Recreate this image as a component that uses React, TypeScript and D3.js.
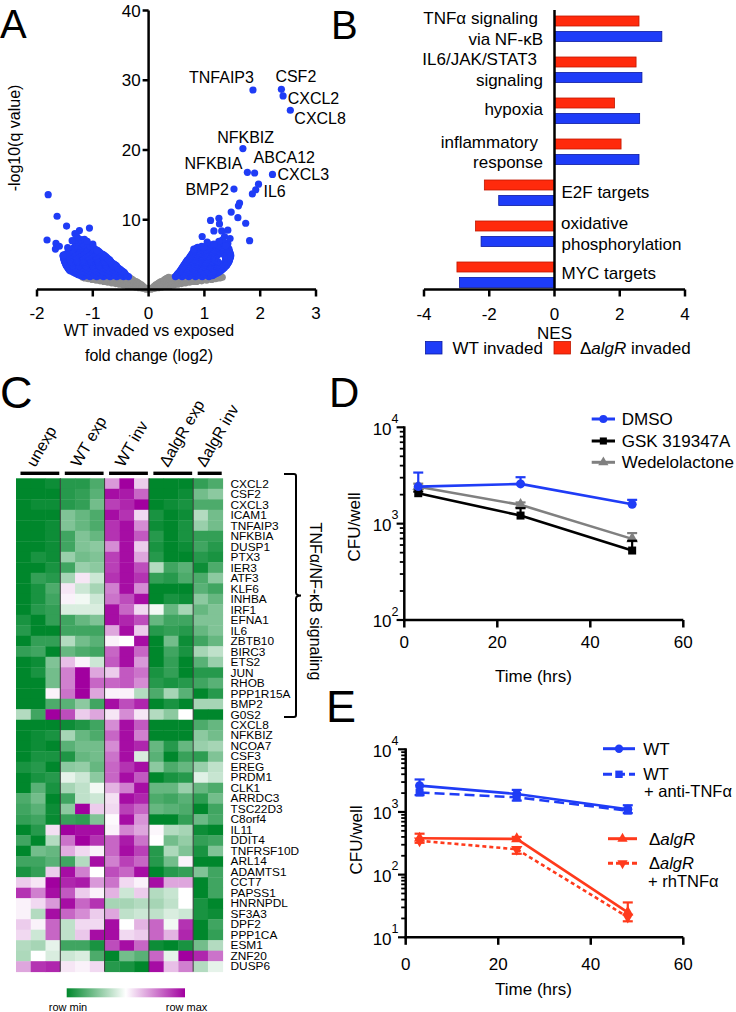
import React from "react";
import * as d3 from "d3";

const FONT = "'Liberation Sans', Arial, Helvetica, sans-serif";

// ---------------- Panel A: volcano ----------------
const labeledGenes = ["TNFAIP3", "CSF2", "CXCL2", "CXCL8", "NFKBIZ", "NFKBIA", "ABCA12", "CXCL3", "IL6", "BMP2"];
const labeledFC = [1.87, 2.38, 2.41, 2.54, 1.69, 1.77, 1.9, 2.22, 1.97, 1.53];
const labeledQ = [28.6, 28.7, 27.75, 25.7, 20.2, 16.8, 16.7, 16.5, 15.1, 14.4];

const blueScatter: [number, number][] = [
  [-1.8, 13.6], [-1.64, 10.5], [-1.82, 7.1], [-1.47, 9.1], [-1.06, 8.8], [-1.24, 8.45], [-1.32, 8.0],
  [-1.66, 6.6], [-1.67, 5.8], [-1.53, 4.9], [-0.92, 5.6], [-1.28, 7.5], [-1.37, 7.0], [-1.15, 7.2],
  [-1.0, 6.5], [-1.1, 6.9], [-1.45, 6.0], [-1.6, 6.2],
  [1.92, 14.3], [1.86, 13.7], [1.63, 12.4], [1.61, 12.0], [1.48, 11.1], [1.6, 10.3], [1.74, 9.5],
  [1.81, 7.0], [1.11, 9.9], [1.26, 10.2], [1.27, 9.4], [1.17, 8.4], [1.31, 8.4], [1.42, 8.5],
  [1.36, 7.6], [1.46, 7.3], [0.96, 7.6], [1.32, 7.1], [1.38, 6.3], [1.23, 6.4], [1.26, 6.9],
  [0.99, 6.1], [0.81, 5.8], [1.05, 6.8], [1.17, 6.5],
];

const blueLeftRows: [number, number[]][] = [
  [1.85, [-1.17, -1.05, -0.93, -0.81, -0.69, -0.57, -0.45, -0.36]],
  [1.97, [-1.21, -1.11, -0.99, -0.87, -0.75, -0.63, -0.51, -0.39]],
  [2.09, [-1.25, -1.15, -1.03, -0.91, -0.79, -0.67, -0.55, -0.42]],
  [2.21, [-1.28, -1.19, -1.07, -0.95, -0.83, -0.71, -0.59, -0.47, -0.42]],
  [2.33, [-1.31, -1.21, -1.09, -0.97, -0.85, -0.73, -0.61, -0.49, -0.43]],
  [2.45, [-1.34, -1.24, -1.12, -1.0, -0.88, -0.76, -0.64, -0.52, -0.44]],
  [2.57, [-1.37, -1.27, -1.15, -1.03, -0.91, -0.79, -0.67, -0.55, -0.46]],
  [2.69, [-1.4, -1.3, -1.18, -1.06, -0.94, -0.82, -0.7, -0.58, -0.48]],
  [2.81, [-1.42, -1.32, -1.2, -1.08, -0.96, -0.84, -0.72, -0.6, -0.5]],
  [2.93, [-1.43, -1.35, -1.23, -1.11, -0.99, -0.87, -0.75, -0.63, -0.52]],
  [3.05, [-1.44, -1.37, -1.25, -1.13, -1.01, -0.89, -0.77, -0.65, -0.54]],
  [3.17, [-1.45, -1.33, -1.21, -1.09, -0.97, -0.85, -0.73, -0.61, -0.56]],
  [3.29, [-1.46, -1.35, -1.23, -1.11, -0.99, -0.87, -0.75, -0.63, -0.57]],
  [3.41, [-1.47, -1.37, -1.25, -1.13, -1.01, -0.89, -0.77, -0.65, -0.58]],
  [3.53, [-1.48, -1.36, -1.24, -1.12, -1.0, -0.88, -0.76, -0.64, -0.6]],
  [3.65, [-1.48, -1.38, -1.26, -1.14, -1.02, -0.9, -0.78, -0.66, -0.62]],
  [3.77, [-1.49, -1.37, -1.25, -1.13, -1.01, -0.89, -0.77, -0.65]],
  [3.89, [-1.5, -1.39, -1.27, -1.15, -1.03, -0.91, -0.79, -0.67]],
  [4.01, [-1.5, -1.38, -1.26, -1.14, -1.02, -0.9, -0.78, -0.68]],
  [4.13, [-1.51, -1.4, -1.28, -1.16, -1.04, -0.92, -0.8, -0.69]],
  [4.25, [-1.51, -1.39, -1.27, -1.15, -1.03, -0.91, -0.79, -0.7]],
  [4.37, [-1.52, -1.41, -1.29, -1.17, -1.05, -0.93, -0.81, -0.72]],
  [4.49, [-1.52, -1.4, -1.28, -1.16, -1.04, -0.92, -0.8, -0.74]],
  [4.61, [-1.52, -1.42, -1.3, -1.18, -1.06, -0.94, -0.82, -0.76]],
  [4.73, [-1.53, -1.41, -1.29, -1.17, -1.05, -0.93, -0.81, -0.77]],
  [4.85, [-1.53, -1.43, -1.31, -1.19, -1.07, -0.95, -0.83, -0.79]],
  [4.97, [-1.52, -1.4, -1.28, -1.16, -1.04, -0.92, -0.81]],
  [5.09, [-1.48, -1.38, -1.26, -1.14, -1.02, -0.9, -0.83]],
  [5.21, [-1.45, -1.35, -1.23, -1.11, -0.99, -0.87]],
  [5.33, [-1.43, -1.33, -1.21, -1.09, -0.97, -0.88]],
  [5.45, [-1.41, -1.3, -1.18, -1.06, -0.94, -0.89]],
  [5.57, [-1.39, -1.28, -1.16, -1.04, -0.92]],
  [5.69, [-1.37, -1.26, -1.14, -1.02, -0.94]],
  [5.81, [-1.35, -1.24, -1.12, -1.0]],
  [5.93, [-1.34, -1.22, -1.1, -0.98]],
  [6.05, [-1.33, -1.21, -1.09]],
  [6.2, [-1.31, -1.19, -1.05]],
  [6.4, [-1.3, -1.17]],
  [6.6, [-1.29, -1.2]],
  [6.85, [-1.27]],
  [7.15, [-1.3, -1.21]],
];

const blueRightRows: [number, number[]][] = [
  [1.85, [0.48, 0.6, 0.72, 0.84, 0.96, 1.08]],
  [1.97, [0.5, 0.62, 0.74, 0.86, 0.98, 1.1, 1.14]],
  [2.09, [0.51, 0.56, 0.68, 0.8, 0.92, 1.04, 1.16]],
  [2.21, [0.52, 0.62, 0.74, 0.86, 0.98, 1.1, 1.19]],
  [2.33, [0.53, 0.65, 0.77, 0.89, 1.01, 1.13, 1.22]],
  [2.45, [0.55, 0.62, 0.74, 0.86, 0.98, 1.1, 1.22, 1.25]],
  [2.57, [0.56, 0.68, 0.8, 0.92, 1.04, 1.16, 1.27]],
  [2.69, [0.57, 0.65, 0.77, 0.89, 1.01, 1.13, 1.25, 1.29]],
  [2.81, [0.58, 0.7, 0.82, 0.94, 1.06, 1.18, 1.31]],
  [2.93, [0.59, 0.67, 0.79, 0.91, 1.03, 1.15, 1.27, 1.33]],
  [3.05, [0.6, 0.72, 0.84, 0.96, 1.08, 1.2, 1.34]],
  [3.17, [0.61, 0.69, 0.81, 0.93, 1.05, 1.17, 1.29, 1.36]],
  [3.29, [0.62, 0.74, 0.86, 0.98, 1.1, 1.22, 1.37]],
  [3.41, [0.63, 0.71, 0.83, 0.95, 1.07, 1.19, 1.31, 1.39]],
  [3.53, [0.64, 0.76, 0.88, 1.0, 1.12, 1.24, 1.4]],
  [3.65, [0.65, 0.73, 0.85, 0.97, 1.09, 1.21, 1.33, 1.41]],
  [3.77, [0.66, 0.78, 0.9, 1.02, 1.14, 1.26, 1.42]],
  [3.89, [0.67, 0.75, 0.87, 0.99, 1.11, 1.23, 1.43]],
  [4.01, [0.68, 0.8, 0.92, 1.04, 1.16, 1.24, 1.44]],
  [4.13, [0.69, 0.77, 0.89, 1.01, 1.13, 1.21, 1.38, 1.44]],
  [4.25, [0.7, 0.82, 0.94, 1.06, 1.18, 1.4, 1.45]],
  [4.37, [0.72, 0.79, 0.91, 1.03, 1.15, 1.38, 1.45]],
  [4.49, [0.73, 0.84, 0.96, 1.08, 1.18, 1.4, 1.46]],
  [4.61, [0.74, 0.81, 0.93, 1.05, 1.15, 1.38, 1.46]],
  [4.73, [0.75, 0.86, 0.98, 1.1, 1.4, 1.47]],
  [4.85, [0.76, 0.83, 0.95, 1.07, 1.16, 1.38, 1.47]],
  [4.97, [0.77, 0.88, 1.0, 1.12, 1.24, 1.36, 1.47]],
  [5.09, [0.78, 0.85, 0.97, 1.09, 1.21, 1.33, 1.46]],
  [5.21, [0.79, 0.9, 1.02, 1.14, 1.26, 1.38, 1.46]],
  [5.33, [0.8, 0.87, 0.99, 1.11, 1.23, 1.35, 1.45]],
  [5.45, [0.81, 0.92, 1.04, 1.16, 1.28, 1.4, 1.45]],
  [5.57, [0.82, 0.89, 1.01, 1.13, 1.25, 1.37, 1.44]],
  [5.69, [0.83, 0.94, 1.06, 1.18, 1.3, 1.42]],
  [5.81, [0.84, 0.91, 1.03, 1.15, 1.27, 1.39, 1.44]],
  [5.93, [0.86, 0.96, 1.08, 1.2, 1.32, 1.42]],
  [6.05, [0.88, 0.98, 1.1, 1.22, 1.34, 1.42]],
  [6.2, [0.95, 1.09, 1.25, 1.4]],
  [6.4, [1.12, 1.4]],
  [6.6, [1.36, 1.42]],
];

const greyRows: [number, number[]][] = [
  [0.05, [-0.04, 0.04]],
  [0.15, [-0.1, 0.0, 0.1]],
  [0.25, [-0.17, -0.07, 0.07, 0.17]],
  [0.35, [-0.24, -0.12, 0.12, 0.24]],
  [0.45, [-0.31, -0.2, -0.1, 0.1, 0.2, 0.31]],
  [0.55, [-0.38, -0.26, -0.13, 0.13, 0.26, 0.38]],
  [0.65, [-0.45, -0.33, -0.21, -0.13, 0.13, 0.21, 0.33, 0.45]],
  [0.75, [-0.52, -0.4, -0.28, -0.16, 0.16, 0.28, 0.4, 0.52]],
  [0.85, [-0.59, -0.47, -0.35, -0.23, -0.17, 0.17, 0.23, 0.35, 0.47, 0.59]],
  [0.95, [-0.66, -0.54, -0.42, -0.3, -0.19, 0.19, 0.3, 0.42, 0.54, 0.66]],
  [1.05, [-0.73, -0.61, -0.49, -0.37, -0.25, -0.21, 0.21, 0.25, 0.37, 0.49, 0.61, 0.73]],
  [1.15, [-0.8, -0.68, -0.56, -0.44, -0.32, -0.23, 0.23, 0.32, 0.44, 0.56, 0.68, 0.8, 0.86]],
  [1.25, [-0.87, -0.75, -0.63, -0.51, -0.39, -0.27, 0.27, 0.39, 0.51, 0.63, 0.75, 0.87, 0.95]],
  [1.35, [-0.94, -0.82, -0.7, -0.58, -0.46, -0.34, -0.28, 0.28, 0.34, 0.46, 0.58, 0.7, 0.82, 0.94, 1.04]],
  [1.45, [-1.01, -0.89, -0.77, -0.65, -0.53, -0.41, -0.3, 0.3, 0.41, 0.53, 0.65, 0.77, 0.89, 1.01, 1.13]],
  [1.55, [-1.08, -0.96, -0.84, -0.72, -0.6, -0.48, -0.36, -0.32, 0.32, 0.36, 0.48, 0.6, 0.72, 0.84, 0.96, 1.08, 1.2]],
  [1.65, [-1.14, -1.02, -0.9, -0.78, -0.66, -0.54, -0.42, -0.34, 0.34, 0.42, 0.54, 0.66, 0.78, 0.9, 1.02, 1.14, 1.27]],
  [1.75, [-1.18, -1.06, -0.94, -0.82, -0.7, -0.58, -0.46, -0.36, 0.36, 0.46, 0.58, 0.7, 0.82, 0.94, 1.06, 1.18, 1.32]],
];

const volcanoXTicks = [-2, -1, 0, 1, 2, 3];
const volcanoYTicks = [10, 20, 30, 40];

// ---------------- Panel B: GSEA NES ----------------
const gseaSets = ["TNFa", "IL6", "hypoxia", "inflammatory", "E2F", "oxphos", "MYC"];
const nesAlgR = [2.59, 2.5, 1.84, 2.04, -2.15, -2.42, -2.99];
const nesWT = [3.29, 2.68, 2.61, 2.59, -1.71, -2.25, -2.91];
const nesTicks = [-4, -2, 0, 2, 4];

// ---------------- Panel C: heatmap ----------------
const heatGenes = [
  "CXCL2", "CSF2", "CXCL3", "ICAM1", "TNFAIP3", "NFKBIA", "DUSP1", "PTX3", "IER3", "ATF3", "KLF6", "INHBA",
  "IRF1", "EFNA1", "IL6", "ZBTB10", "BIRC3", "ETS2", "JUN", "RHOB", "PPP1R15A", "BMP2", "G0S2", "CXCL8",
  "NFKBIZ", "NCOA7", "CSF3", "EREG", "PRDM1", "CLK1", "ARRDC3", "TSC22D3", "C8orf4", "IL11", "DDIT4",
  "TNFRSF10D", "ARL14", "ADAMTS1", "CCT7", "PAPSS1", "HNRNPDL", "SF3A3", "DPF2", "PPP1CA", "ESM1", "ZNF20", "DUSP6",
];
const heatGroups = ["unexp", "WT exp", "WT inv", "\u0394algR exp", "\u0394algR inv"];
const heatGroupSizes = [3, 3, 3, 3, 2];
const heatValues: number[][] = [
  [-1, -1, -0.95, -0.85, -0.85, -0.7, 0.4, 1, 0.2, -1, -1, -1, -0.8, -0.7],
  [-1, -1, -1, -0.85, -0.8, -0.65, 0.95, 0.9, 0.6, -1, -1, -0.95, -0.55, -0.45],
  [-1, -0.95, -0.95, -0.85, -0.8, -0.55, 0.75, 0.85, 1, -1, -0.95, -0.9, -0.7, -0.7],
  [-1, -1, -1, -0.5, -0.6, -0.7, 0.95, 0.8, 0.15, -0.9, -1, -0.95, -0.3, -0.55],
  [-1, -1, -0.95, -0.5, -0.6, -0.7, 0.8, 0.95, 0.45, -0.95, -1, -0.9, -0.4, -0.55],
  [-1, -1, -0.95, -0.75, -0.5, -0.6, 0.8, 0.95, 0.65, -0.85, -1, -0.9, -0.8, -0.8],
  [-1, -1, -0.95, -0.75, -0.5, -0.45, 0.45, 0.95, 0.2, -0.9, -1, -0.95, -0.75, -0.85],
  [-1, -0.9, -0.95, -0.4, -0.55, -0.5, 0.75, 0.95, 0.35, -0.85, -1, -1, -0.85, -0.9],
  [-1, -1, -0.9, -0.75, -0.4, -0.45, 0.75, 0.95, 0.7, -0.3, -0.75, -0.65, -0.95, -0.7],
  [-1, -0.8, -0.85, -0.35, 0.1, -0.2, 0.8, 0.95, 0.8, -0.8, -0.85, -0.7, -0.7, -0.45],
  [-1, -0.9, -0.7, 0.1, -0.2, -0.35, 0.5, 0.95, 0.45, -1, -1, -1, -0.65, -0.75],
  [-1, -0.9, -0.75, 0.05, -0.05, -0.2, 0.55, 0.7, 0.95, -1, -0.9, -0.95, -0.45, -0.6],
  [-1, -0.85, -0.8, -0.15, -0.15, -0.15, 0.95, 0.6, 0.15, -0.05, -0.6, -0.35, -0.6, -0.5],
  [-0.9, -1, -0.8, -0.75, -0.6, -0.5, 0.95, 0.85, 0.7, -0.6, -0.75, -0.75, -0.5, -0.5],
  [-0.85, -1, -1, -0.75, -0.75, -0.75, 0.35, 0.95, 0.2, -0.85, -0.8, -0.85, -0.6, -0.5],
  [-1, -0.8, -0.8, -0.3, -0.55, -0.65, 0.05, 0.0, 0.95, -1, -0.55, -0.95, -0.75, -0.6],
  [-0.8, -0.75, -1, -0.6, -0.7, -0.75, 0.6, 0.95, 0.6, -1, -0.75, -0.9, -0.35, -0.25],
  [-1, -0.95, -0.5, 0.25, 0.05, -0.2, 0.65, 0.95, 0.4, -1, -0.8, -1, -0.65, -0.4],
  [-1, -0.9, -0.55, 0.5, 1, 0.35, 0.2, 0.65, 0.55, -0.9, -0.8, -1, -0.85, -0.85],
  [-1, -1, -0.55, 0.5, 1, 0.6, 0.6, 0.65, 0.45, -0.85, -0.9, -0.85, -0.75, -0.65],
  [-1, -1, 0.05, 0.55, 1, 0.35, 0.05, 0.05, -0.3, -0.7, -0.35, -0.65, -1, -0.85],
  [-1, -1, -0.7, -0.65, -0.45, -0.75, 0.95, 0.7, 0.85, -1, -0.9, -1, -0.35, -0.35],
  [-0.3, -0.75, 1, 0.7, 0.2, 0.35, 0.1, 0.45, 0.1, -0.3, -0.45, 0, -1, -1],
  [-1, -1, -1, -0.95, -0.88, -0.75, 0.45, 0.95, 0.65, -1, -1, -1, -0.7, -0.6],
  [-1, -0.95, -0.9, -0.35, -0.6, -0.7, 0.6, 0.95, 0.5, -1, -1, -1, -0.45, -0.55],
  [-1, -0.95, -1, -0.65, -0.55, -0.55, 0.45, 0.95, 0.85, -0.6, -0.85, -0.6, -0.4, -0.35],
  [-1, -0.9, -0.9, -0.88, -0.6, -0.55, 0.55, 0.95, -0.15, -0.65, -1, -0.78, -0.82, -0.5],
  [-0.9, -0.85, -1, -0.45, -0.42, -0.6, 0.6, 0.8, 0.95, -0.45, -0.7, -0.6, -0.4, -0.25],
  [-1, -0.9, -0.85, -0.1, -0.2, -0.45, 0.6, 0.95, 0.65, -1, -0.9, -0.85, -0.12, -0.22],
  [-1, -0.65, -0.9, -0.35, -0.25, -0.05, 0.3, 0.5, 0.95, -0.6, -0.6, -0.4, -0.6, -0.7],
  [-0.7, -0.55, -1, -0.75, -0.25, -0.2, 0.12, 0.95, 0.85, -0.7, -0.75, -0.65, -0.82, -0.55],
  [-0.75, -0.65, -0.95, -0.45, 1, 0.2, 0.15, 0.75, 0.6, -0.6, -0.65, -0.7, -1, -0.75],
  [-0.8, -0.75, -0.97, -0.78, -0.82, -0.5, 0.02, 0.95, 0.42, -1, -1, -0.8, -0.58, -0.72],
  [-1, -0.85, 0.12, 1, 0.95, 0.95, 0.05, 0.48, 0.35, 0.03, -0.3, -0.35, -0.95, -1],
  [-0.75, -1, -0.3, 0.55, 1, 0.8, 0.6, 0.9, 0.55, 0.0, -0.55, -0.42, -0.8, -0.75],
  [-1, -0.55, -0.6, 0.32, 0.15, 0.05, 0.6, 0.95, 0.75, -0.85, -0.32, -0.5, -0.9, -0.5],
  [-0.75, -0.75, -0.65, -0.75, -0.3, 0.95, 0.5, 0.75, 0.6, -0.85, -0.55, 0.05, -1, -1],
  [-0.9, -0.8, 0.2, 0.95, 0.5, 0.0, 0.7, 0.6, 0.95, -1, -0.85, -0.8, -0.5, -0.75],
  [0.2, 0.1, 1, 0.85, 0.9, 0.4, 0.55, 0.15, 0.05, 0.95, 0.35, 0.35, -1, -0.75],
  [0.8, 0.5, 0.95, 0.65, 0.2, 0.05, 0.3, -0.2, 0.2, -0.3, -0.22, 0.0, -1, -0.75],
  [0.05, 0.15, 0.4, 0.95, 0.6, 0.8, -0.35, -0.35, -0.3, -0.35, -0.25, 0.0, -0.9, -1],
  [0.05, -0.3, 0.95, 0.6, 0.45, 0.2, 0.35, -0.25, -0.2, -0.25, -0.15, -0.2, -0.9, -0.95],
  [0.2, 0.05, 0.6, -0.25, 0.15, 0.15, 0.95, 0.0, 0.3, 0.6, -0.05, 0.8, -1, -0.75],
  [0.15, -0.2, 0.6, -0.25, 0.22, 0.95, 0.95, 0.15, 0.2, 0.6, 0.3, 0.85, -1, -0.8],
  [-0.3, -0.35, -0.1, -0.75, -0.75, -0.9, 0.7, 0.95, 0.6, -0.95, -1, -0.9, -0.55, -0.3],
  [-0.32, 0.0, -0.15, -0.2, -0.15, -0.7, -1, -0.55, -0.65, 0.6, -0.1, 1, 0.85, 0.55],
  [0.35, 0.8, 0.85, 0.1, 0.05, 0.15, -0.85, -0.9, -1, 0.95, 0.25, 0.5, -0.3, -0.1],
];

// ---------------- Panel D ----------------
const dTimes = [3, 25, 49];
const dDMSO = [2425, 2585, 1592];
const dDMSOHi = [3390, 3034, 1766];
const dGSK = [2070, 1213, 526];
const dGSKHi = [2150, 1448, 664];
const dWedel = [2420, 1567, 695];
const dWedelHi = [2600, 1660, 798];
const timeTicks = [0, 20, 40, 60];

// ---------------- Panel E ----------------
const eTimes = [3, 24, 48];
const eWT = [2630, 1935, 1105];
const eWTHi = [3300, 2250, 1280];
const eWTanti = [2040, 1715, 1050];
const eWTantiLo = [1860, 1520, 960];
const eAlgR = [380, 372, 25];
const eAlgRHi = [450, 400, 36];
const eAlgRTnf = [347, 254, 21];
const eAlgRTnfLo = [322, 215, 18];

const BLUE = "#1f3cf6";
const RED = "#ff3a1c";

function AlgR({ rest }: { rest: string }) {
  return (
    <>
      <tspan>{"\u0394"}</tspan>
      <tspan fontStyle="italic">algR</tspan>
      {rest ? <tspan>{rest}</tspan> : null}
    </>
  );
}

function PanelA() {
  const x = d3.scaleLinear().domain([-2, 3]).range([37, 316]);
  const y = d3.scaleLinear().domain([0, 40]).range([289.5, 10.5]);
  const grey: [number, number][] = greyRows.flatMap(([yy, xs]) => xs.map((xx) => [xx, yy] as [number, number]));
  const blue: [number, number][] = [...blueLeftRows, ...blueRightRows]
    .flatMap(([yy, xs]) => xs.map((xx) => [xx, yy] as [number, number]))
    .concat(blueScatter)
    .concat(labeledGenes.map((_, i) => [labeledFC[i], labeledQ[i]] as [number, number]));
  const labelPos: Record<string, [number, number, "start" | "middle" | "end"]> = {
    TNFAIP3: [1, -6.6, "end"],
    CSF2: [-6, -7, "start"],
    CXCL2: [4.6, 7.7, "start"],
    CXCL8: [4, 13.7, "start"],
    NFKBIZ: [2.7, -6, "middle"],
    NFKBIA: [-5, -3, "end"],
    ABCA12: [-1, -10.3, "start"],
    CXCL3: [5, 5.7, "start"],
    IL6: [5, 13, "start"],
    BMP2: [-5, 5.7, "end"],
  };
  const x0 = x(0);
  return (
    <g>
      {grey.map((d, i) => (
        <circle key={"g" + i} cx={x(d[0])} cy={y(d[1])} r={3.6} fill="#8e8e8e" />
      ))}
      {blue.map((d, i) => (
        <circle key={"b" + i} cx={x(d[0])} cy={y(d[1])} r={3.6} fill={BLUE} />
      ))}
      <line x1={x0} x2={x0} y1={y(0)} y2={y(40)} stroke="#000" strokeWidth={2.5} />
      {volcanoYTicks.map((t) => (
        <g key={"yt" + t}>
          <line x1={x0 - 6} x2={x0} y1={y(t)} y2={y(t)} stroke="#000" strokeWidth={2.5} />
          <text x={x0 - 8} y={y(t) + 6} textAnchor="end" fontSize={17}>{t}</text>
        </g>
      ))}
      <line x1={x(-2)} x2={x(3)} y1={y(0)} y2={y(0)} stroke="#000" strokeWidth={2.5} />
      {volcanoXTicks.map((t) => (
        <g key={"xt" + t}>
          <line x1={x(t)} x2={x(t)} y1={y(0)} y2={y(0) + 7} stroke="#000" strokeWidth={2.5} />
          <text x={x(t)} y={319} textAnchor="middle" fontSize={17}>{t}</text>
        </g>
      ))}
      {labeledGenes.map((g, i) => {
        const [dx, dy, anchor] = labelPos[g];
        return (
          <text key={"lab" + g} x={x(labeledFC[i]) + dx} y={y(labeledQ[i]) + dy} textAnchor={anchor} fontSize={16}>
            {g}
          </text>
        );
      })}
      <text transform="translate(20,138) rotate(-90)" textAnchor="middle" fontSize={16}>-log10(q value)</text>
      <text x={149} y={336} textAnchor="middle" fontSize={16}>WT invaded vs exposed</text>
      <text x={149} y={361} textAnchor="middle" fontSize={16}>fold change (log2)</text>
      <text x={0} y={38} fontSize={40}>A</text>
    </g>
  );
}

function PanelB() {
  const x = d3.scaleLinear().domain([-4, 4]).range([424, 685]);
  const band = d3.scaleBand().domain(gseaSets).range([10.5, 297.5]);
  const x0 = x(0);
  const axY = 289.5;
  return (
    <g>
      {gseaSets.map((s, i) => {
        const b = band(s) as number;
        const va = nesAlgR[i];
        const vw = nesWT[i];
        return (
          <g key={"bar" + s}>
            <rect x={Math.min(x0, x(va))} y={b + 5.5} width={Math.abs(x(va) - x0)} height={10} fill="#ff2a0c" stroke="#c01800" strokeWidth={0.8} />
            <rect x={Math.min(x0, x(vw))} y={b + 21} width={Math.abs(x(vw) - x0)} height={10} fill="#1e3cf8" stroke="#0a1aa0" strokeWidth={0.8} />
          </g>
        );
      })}
      <line x1={x0} x2={x0} y1={10} y2={axY} stroke="#000" strokeWidth={2.5} />
      <line x1={x(-4)} x2={x(4)} y1={axY} y2={axY} stroke="#000" strokeWidth={2.5} />
      {nesTicks.map((t) => (
        <g key={"nt" + t}>
          <line x1={x(t)} x2={x(t)} y1={axY} y2={axY + 7} stroke="#000" strokeWidth={2.5} />
          <text x={x(t)} y={320} textAnchor="middle" fontSize={17}>{t}</text>
        </g>
      ))}
      <text x={x0} y={338.5} textAnchor="middle" fontSize={17}>NES</text>
      <g fontSize={17}>
        <text x={538} y={24} textAnchor="end">TNF{"\u03b1"} signaling</text>
        <text x={543} y={44.5} textAnchor="end">via NF-{"\u03ba"}B</text>
        <text x={537} y={65} textAnchor="end">IL6/JAK/STAT3</text>
        <text x={543} y={86} textAnchor="end">signaling</text>
        <text x={543} y={115} textAnchor="end">hypoxia</text>
        <text x={538} y={147.5} textAnchor="end">inflammatory</text>
        <text x={543} y={168} textAnchor="end">response</text>
        <text x={561.5} y={197.5}>E2F targets</text>
        <text x={561} y={228.5}>oxidative</text>
        <text x={561.5} y={250}>phosphorylation</text>
        <text x={561.5} y={278.5}>MYC targets</text>
      </g>
      <rect x={425.5} y={341.5} width={16.5} height={12.5} fill="#1e3cf8" stroke="#0a1aa0" strokeWidth={0.8} />
      <text x={452.5} y={353.5} fontSize={17}>WT invaded</text>
      <rect x={554} y={341.5} width={16.5} height={12.5} fill="#ff2a0c" stroke="#c01800" strokeWidth={0.8} />
      <text x={580} y={353.5} fontSize={17}><AlgR rest=" invaded" /></text>
      <text x={331} y={39} fontSize={40}>B</text>
    </g>
  );
}

function PanelC() {
  const nCols = heatValues[0].length;
  const cx = d3.scaleBand<number>().domain(d3.range(nCols)).range([16, 222.7]);
  const ry = d3.scaleBand<string>().domain(heatGenes).range([478.3, 971.7]);
  const color = d3.scaleLinear<string>().domain([-1, 0, 1]).range(["#00872c", "#ffffff", "#a1009f"]);
  const bw = cx.bandwidth();
  const bh = ry.bandwidth();
  const starts: number[] = [];
  let acc = 0;
  heatGroupSizes.forEach((s) => {
    starts.push(acc);
    acc += s;
  });
  const top = (ry(heatGenes[0]) as number) - 4.3;
  const bottom = (ry("G0S2") as number) + 7.7;
  const mid = (top + bottom) / 2;
  const bx = 296;
  return (
    <g>
      <defs>
        <linearGradient id="heatGrad" x1="0" x2="1" y1="0" y2="0">
          <stop offset="0" stopColor="#00872c" />
          <stop offset="0.5" stopColor="#ffffff" />
          <stop offset="1" stopColor="#a1009f" />
        </linearGradient>
      </defs>
      {heatGenes.map((g, r) =>
        heatValues[r].map((v, c) => (
          <rect key={g + c} x={cx(c) as number} y={ry(g) as number} width={bw + 0.4} height={bh + 0.4} fill={color(v)} />
        ))
      )}
      {starts.slice(1).map((s) => (
        <line key={"sep" + s} x1={cx(s) as number} x2={cx(s) as number} y1={478.3} y2={971.7} stroke="#3a3a3a" strokeWidth={1} />
      ))}
      {heatGroups.map((g, i) => {
        const x1 = cx(starts[i]) as number;
        const x2 = (cx(starts[i] + heatGroupSizes[i] - 1) as number) + bw;
        const c = (x1 + x2) / 2;
        return (
          <g key={"grp" + i}>
            <rect x={x1 + 4.5} y={471.6} width={x2 - x1 - 5.5} height={3.4} fill="#000" />
            <text transform={`translate(${c - 3},468) rotate(-60)`} fontSize={16}>{g}</text>
          </g>
        );
      })}
      {heatGenes.map((g) => (
        <text
          key={"gl" + g}
          transform={`translate(230.5,${(ry(g) as number) + bh / 2 + 4}) scale(1.08,1)`}
          fontSize={11}
        >
          {g}
        </text>
      ))}
      <path
        d={`M ${bx - 12} ${top} L ${bx - 2} ${top} Q ${bx} ${top} ${bx} ${top + 2} L ${bx} ${mid - 3} Q ${bx} ${mid} ${bx + 5} ${mid} Q ${bx} ${mid} ${bx} ${mid + 3} L ${bx} ${bottom - 2} Q ${bx} ${bottom} ${bx - 2} ${bottom} L ${bx - 12} ${bottom}`}
        fill="none"
        stroke="#000"
        strokeWidth={2}
      />
      <text transform={`translate(309.5,${mid + 6}) rotate(90)`} textAnchor="middle" fontSize={16}>
        TNF{"\u03b1"}/NF-{"\u03ba"}B signaling
      </text>
      <rect x={66.7} y={988.3} width={118.3} height={9} fill="url(#heatGrad)" />
      <text x={68} y={1010.5} textAnchor="middle" fontSize={11}>row min</text>
      <text x={186.5} y={1010.5} textAnchor="middle" fontSize={11}>row max</text>
      <text x={0} y={408} fontSize={45}>C</text>
    </g>
  );
}

type SeriesDef = {
  key: string;
  t: number[];
  v: number[];
  err: number[];
  color: string;
  dash?: string;
  symbol: d3.SymbolType;
  size: number;
  rotate?: number;
};

function LogPanel({
  x,
  y,
  decades,
  series,
  yLabelX,
  tickBase,
  titleY,
  cfuX,
  cfuY,
}: {
  x: d3.ScaleLinear<number, number>;
  y: d3.ScaleLogarithmic<number, number>;
  decades: number[];
  series: SeriesDef[];
  yLabelX: number;
  tickBase: number;
  titleY: number;
  cfuX: number;
  cfuY: number;
}) {
  const x0 = x(0);
  const yBottom = y(Math.pow(10, decades[0]));
  const yTop = y(Math.pow(10, decades[decades.length - 1]));
  const minors: number[] = [];
  for (let k = 0; k < decades.length - 1; k++) {
    for (let m = 2; m <= 9; m++) minors.push(m * Math.pow(10, decades[k]));
  }
  const line = d3.line<[number, number]>();
  return (
    <g>
      <line x1={x0} x2={x0} y1={yBottom + 1.2} y2={yTop - 1} stroke="#000" strokeWidth={2.5} />
      {minors.map((m, i) => (
        <line key={"mn" + i} x1={x0 - 4.5} x2={x0} y1={y(m)} y2={y(m)} stroke="#000" strokeWidth={1.8} />
      ))}
      {decades.map((k) => (
        <g key={"dk" + k}>
          <line x1={x0 - 7.7} x2={x0} y1={y(Math.pow(10, k))} y2={y(Math.pow(10, k))} stroke="#000" strokeWidth={2.2} />
          <text x={yLabelX} y={y(Math.pow(10, k)) + 7.4} textAnchor="end" fontSize={17}>
            10<tspan dy={-11.7} fontSize={12.5}>{k}</tspan>
          </text>
        </g>
      ))}
      <line x1={x0 - 1.2} x2={x(60)} y1={yBottom} y2={yBottom} stroke="#000" strokeWidth={2.5} />
      {timeTicks.map((t) => (
        <g key={"tt" + t}>
          <line x1={x(t)} x2={x(t)} y1={yBottom} y2={yBottom + 7.5} stroke="#000" strokeWidth={2.5} />
          <text x={x(t)} y={tickBase} textAnchor="middle" fontSize={17}>{t}</text>
        </g>
      ))}
      <text x={533.5} y={titleY} textAnchor="middle" fontSize={17}>Time (hrs)</text>
      <text transform={`translate(${cfuX},${cfuY}) rotate(-90)`} textAnchor="middle" fontSize={17}>CFU/well</text>
      {series.map((s) => {
        const pts = s.t.map((t, i) => [x(t), y(s.v[i])] as [number, number]);
        return (
          <g key={s.key}>
            <path d={line(pts) as string} fill="none" stroke={s.color} strokeWidth={2.6} strokeDasharray={s.dash} />
            {s.t.map((t, i) => (
              <g key={"e" + i}>
                <line x1={x(t)} x2={x(t)} y1={y(s.v[i])} y2={y(s.err[i])} stroke={s.color} strokeWidth={2.2} />
                <line x1={x(t) - 5} x2={x(t) + 5} y1={y(s.err[i])} y2={y(s.err[i])} stroke={s.color} strokeWidth={2.2} />
              </g>
            ))}
            {pts.map((p, i) => (
              <path
                key={"m" + i}
                d={d3.symbol().type(s.symbol).size(s.size)() as string}
                transform={`translate(${p[0]},${p[1]}) rotate(${s.rotate || 0})`}
                fill={s.color}
              />
            ))}
          </g>
        );
      })}
    </g>
  );
}

function LegendItem({
  x1,
  x2,
  y,
  color,
  dash,
  symbol,
  size,
  rotate,
  children,
  tx,
  fs,
}: {
  x1: number;
  x2: number;
  y: number;
  color: string;
  dash?: string;
  symbol: d3.SymbolType;
  size: number;
  rotate?: number;
  children: React.ReactNode;
  tx: number;
  fs?: number;
}) {
  return (
    <g>
      <line x1={x1} x2={x2} y1={y} y2={y} stroke={color} strokeWidth={3} strokeDasharray={dash} />
      <path d={d3.symbol().type(symbol).size(size)() as string} transform={`translate(${(x1 + x2) / 2},${y}) rotate(${rotate || 0})`} fill={color} />
      <text x={tx} y={y + 6} fontSize={fs || 17}>{children}</text>
    </g>
  );
}

function PanelD() {
  const x = d3.scaleLinear().domain([0, 60]).range([404.3, 683.3]);
  const y = d3.scaleLog().domain([100, 10000]).range([620, 427.3]);
  const series: SeriesDef[] = [
    { key: "wed", t: dTimes, v: dWedel, err: dWedelHi, color: "#808080", symbol: d3.symbolTriangle, size: 60 },
    { key: "gsk", t: dTimes, v: dGSK, err: dGSKHi, color: "#000", symbol: d3.symbolSquare, size: 64 },
    { key: "dmso", t: dTimes, v: dDMSO, err: dDMSOHi, color: BLUE, symbol: d3.symbolCircle, size: 64 },
  ];
  return (
    <g>
      <LogPanel x={x} y={y} decades={[2, 3, 4]} series={series} yLabelX={398.5} tickBase={648} titleY={682} cfuX={359.5} cfuY={527} />
      <LegendItem x1={591.7} x2={615} y={419} color={BLUE} symbol={d3.symbolCircle} size={50} tx={621.7}>DMSO</LegendItem>
      <LegendItem x1={591.7} x2={615} y={441} color="#000" symbol={d3.symbolSquare} size={50} tx={621.7}>GSK 319347A</LegendItem>
      <LegendItem x1={591.7} x2={615} y={462.3} color="#808080" symbol={d3.symbolTriangle} size={45} tx={621.7}>Wedelolactone</LegendItem>
      <text x={329} y={407} fontSize={42}>D</text>
    </g>
  );
}

function PanelE() {
  const x = d3.scaleLinear().domain([0, 60]).range([405.7, 683.3]);
  const y = d3.scaleLog().domain([10, 10000]).range([937.3, 749.3]);
  const series: SeriesDef[] = [
    { key: "wt", t: eTimes, v: eWT, err: eWTHi, color: BLUE, symbol: d3.symbolCircle, size: 64 },
    { key: "wta", t: eTimes, v: eWTanti, err: eWTantiLo, color: BLUE, dash: "10,5", symbol: d3.symbolSquare, size: 64 },
    { key: "alg", t: eTimes, v: eAlgR, err: eAlgRHi, color: RED, symbol: d3.symbolTriangle, size: 55 },
    { key: "algt", t: eTimes, v: eAlgRTnf, err: eAlgRTnfLo, color: RED, dash: "4,3", symbol: d3.symbolTriangle, size: 55, rotate: 180 },
  ];
  return (
    <g>
      <LogPanel x={x} y={y} decades={[1, 2, 3, 4]} series={series} yLabelX={398.5} tickBase={969.5} titleY={995} cfuX={362} cfuY={840} />
      <LegendItem x1={603} x2={635} y={748.7} color={BLUE} symbol={d3.symbolCircle} size={55} tx={643.3}>WT</LegendItem>
      <LegendItem x1={603} x2={635} y={774.3} color={BLUE} dash="9,4" symbol={d3.symbolSquare} size={55} tx={643.3} fs={16.5}>WT</LegendItem>
      <text x={644} y={796.5} fontSize={16.5}>+ anti-TNF{"\u03b1"}</text>
      <LegendItem x1={608} x2={637} y={838.7} color={RED} symbol={d3.symbolTriangle} size={45} tx={649}><AlgR rest="" /></LegendItem>
      <LegendItem x1={608} x2={637} y={863.3} color={RED} dash="5,3" symbol={d3.symbolTriangle} size={45} rotate={180} tx={649} fs={16.5}><AlgR rest="" /></LegendItem>
      <text x={648} y={886.5} fontSize={16.5}>+ rhTNF{"\u03b1"}</text>
      <text x={326} y={722} fontSize={45}>E</text>
    </g>
  );
}

export default function App() {
  return (
    <svg
      width={736}
      height={1012}
      viewBox="0 0 736 1012"
      style={{ position: "absolute", left: 0, top: 0, background: "#fff" }}
      fontFamily={FONT}
    >
      <rect x={0} y={0} width={736} height={1012} fill="#fff" />
      <PanelA />
      <PanelB />
      <PanelC />
      <PanelD />
      <PanelE />
    </svg>
  );
}
